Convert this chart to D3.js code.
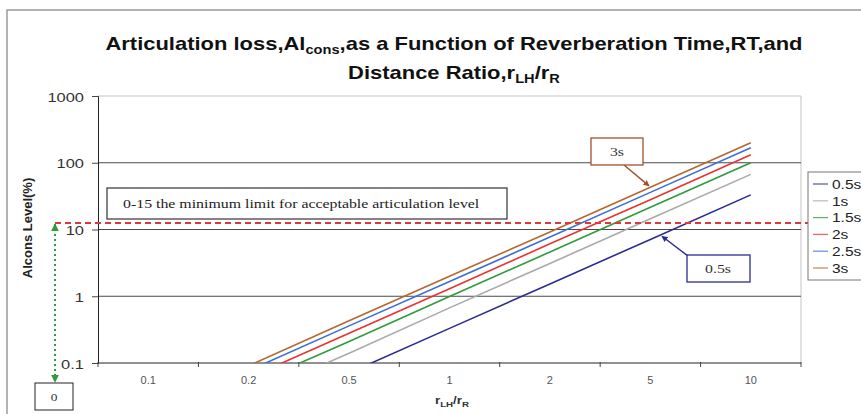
<!DOCTYPE html>
<html>
<head>
<meta charset="utf-8">
<script src="https://cdn.jsdelivr.net/npm/d3@7"></script>
<style>
  html, body { margin: 0; padding: 0; background: #fff; }
  svg { display: block; }
  text { font-family: "Liberation Sans", Arial, sans-serif; }
  .serif { font-family: "Liberation Serif", "Times New Roman", serif; }
</style>
</head>
<body>
<svg id="chart" width="861" height="414"></svg>
<script>
// Distance ratio categories (x axis)
const categories = ["0.1", "0.2", "0.5", "1", "2", "5", "10"];

// Alcons (%) for each reverberation time, one value per distance-ratio category
const seriesNames = ["0.5s", "1s", "1.5s", "2s", "2.5s", "3s"];
const alcons05 = [0.0033, 0.015, 0.071, 0.33, 1.53, 7.1, 33];
const alcons1  = [0.0066, 0.031, 0.14, 0.67, 3.1, 14.5, 67];
const alcons15 = [0.0098, 0.046, 0.21, 0.99, 4.6, 21.5, 100];
const alcons2  = [0.013, 0.060, 0.28, 1.3, 6.1, 28, 132];
const alcons25 = [0.016, 0.077, 0.36, 1.66, 7.7, 36, 168];
const alcons3  = [0.020, 0.091, 0.43, 2.0, 9.2, 43, 200];
const seriesValues = [alcons05, alcons1, alcons15, alcons2, alcons25, alcons3];
const seriesColors = ["#2b2d8e", "#a9a9a9", "#2e9b3c", "#e8342e", "#3c6fd6", "#b8662c"];

// Y axis ticks and the acceptable-articulation limit
const yTicks = [0.1, 1, 10, 100, 1000];
const yTickLabels = ["0.1", "1", "10", "100", "1000"];
const limitValue = 12.5;

// Text in this chart is set slightly wide
const WIDE = 1.22;

const svg = d3.select("#chart");

// Place a text element at (x, y) with horizontal widening
function wide(sel, x, y, sx) {
  return sel.attr("x", 0).attr("y", 0)
    .attr("transform", `translate(${x},${y}) scale(${sx || WIDE},1)`);
}

// Outer chart frame
svg.append("rect")
  .attr("x", 7).attr("y", 10).attr("width", 900).attr("height", 440)
  .attr("fill", "none").attr("stroke", "#9a9a9a").attr("stroke-width", 1.5);

const plot = { left: 98, right: 801, top: 96, bottom: 363 };

const x = d3.scaleBand().domain(categories).range([plot.left, plot.right]).padding(0);
const xc = c => x(c) + x.bandwidth() / 2;
const y = d3.scaleLog().domain([0.1, 1000]).range([plot.bottom, plot.top]);

// Plot area border (top/right) in light grey
svg.append("path")
  .attr("d", `M${plot.left},${plot.top}H${plot.right}V${plot.bottom}`)
  .attr("fill", "none").attr("stroke", "#c4c4c4").attr("stroke-width", 1);

// Horizontal gridlines at decades
svg.append("g").selectAll("line")
  .data(yTicks.filter(v => v > 0.1 && v < 1000))
  .join("line")
  .attr("x1", plot.left).attr("x2", plot.right)
  .attr("y1", d => y(d)).attr("y2", d => y(d))
  .attr("stroke", "#4a4a4a").attr("stroke-width", 1);

// Y axis
const yAxis = d3.axisLeft(y).tickValues(yTicks)
  .tickFormat((d, i) => yTickLabels[i]).tickSize(6).tickPadding(6);
const gy = svg.append("g").attr("transform", `translate(${plot.left},0)`).call(yAxis);
gy.select(".domain").attr("stroke", "#222");
gy.selectAll(".tick line").attr("stroke", "#444");
gy.selectAll(".tick text")
  .attr("font-size", 13.5).attr("fill", "#333")
  .attr("font-family", "'Liberation Sans', Arial, sans-serif")
  .attr("x", null).attr("dy", null)
  .attr("transform", `translate(-14,5) scale(${WIDE},1)`);

// X axis: category labels centred in bands, ticks on band boundaries
const gx = svg.append("g").attr("transform", `translate(0,${plot.bottom})`);
gx.append("line").attr("x1", plot.left).attr("x2", plot.right)
  .attr("stroke", "#222").attr("stroke-width", 1);
const boundaries = categories.map(c => x(c)).concat([plot.right]);
gx.selectAll("line.tk").data(boundaries).join("line").attr("class", "tk")
  .attr("x1", d => d).attr("x2", d => d).attr("y1", -1).attr("y2", 4)
  .attr("stroke", "#444");
gx.selectAll("text").data(categories).join("text")
  .attr("x", d => xc(d)).attr("y", 21)
  .attr("text-anchor", "middle").attr("font-size", 11).attr("fill", "#555")
  .text(d => d);

// Series lines, clipped to the plot area
svg.append("clipPath").attr("id", "plotClip").append("rect")
  .attr("x", plot.left).attr("y", plot.top)
  .attr("width", plot.right - plot.left).attr("height", plot.bottom - plot.top);

const line = d3.line().x((d, i) => xc(categories[i])).y(d => y(d));
svg.append("g").attr("clip-path", "url(#plotClip)")
  .selectAll("path")
  .data(seriesValues)
  .join("path")
  .attr("d", d => line(d))
  .attr("fill", "none")
  .attr("stroke", (d, i) => seriesColors[i])
  .attr("stroke-width", 1.6);

// Pixel y of a series polyline at a given pixel x
function lineYAt(vals, px) {
  const pts = vals.map((v, i) => [xc(categories[i]), y(v)]);
  for (let i = 0; i < pts.length - 1; i++) {
    if (px >= pts[i][0] && px <= pts[i + 1][0]) {
      const t = (px - pts[i][0]) / (pts[i + 1][0] - pts[i][0]);
      return pts[i][1] + t * (pts[i + 1][1] - pts[i][1]);
    }
  }
  return pts[pts.length - 1][1];
}

// Arrowhead markers
const defs = svg.append("defs");
function marker(id, color, orient) {
  defs.append("marker").attr("id", id)
    .attr("viewBox", "0 0 10 10").attr("refX", 9).attr("refY", 5)
    .attr("markerWidth", 4).attr("markerHeight", 4)
    .attr("markerUnits", "strokeWidth")
    .attr("orient", orient || "auto")
    .append("path").attr("d", "M0,0L10,5L0,10Z").attr("fill", color);
}
marker("arrBrown", "#a0522d");
marker("arrNavy", "#2b2d8e");
marker("arrGreenEnd", "#2e9b3c");
marker("arrGreenStart", "#2e9b3c", "auto-start-reverse");

// Acceptable-articulation limit (dashed red)
svg.append("line")
  .attr("x1", 55).attr("x2", 861)
  .attr("y1", y(limitValue)).attr("y2", y(limitValue))
  .attr("stroke", "#e0373a").attr("stroke-width", 2)
  .attr("stroke-dasharray", "6,4");

// Double-headed range arrow from the "0" box up to the limit
svg.append("line")
  .attr("x1", 55).attr("x2", 55)
  .attr("y1", y(limitValue) + 1).attr("y2", 382)
  .attr("stroke", "#2e9b3c").attr("stroke-width", 2)
  .attr("stroke-dasharray", "2,3")
  .attr("marker-start", "url(#arrGreenStart)")
  .attr("marker-end", "url(#arrGreenEnd)");

svg.append("rect").attr("x", 35).attr("y", 383).attr("width", 38).attr("height", 27)
  .attr("fill", "#fff").attr("stroke", "#222").attr("stroke-width", 1);
wide(svg.append("text").attr("class", "serif"), 54, 401)
  .attr("text-anchor", "middle").attr("font-size", 11).attr("fill", "#333").text("0");

// Limit note box
svg.append("rect").attr("x", 107).attr("y", 188).attr("width", 400).attr("height", 31)
  .attr("fill", "#fff").attr("stroke", "#333").attr("stroke-width", 1.2);
wide(svg.append("text").attr("class", "serif"), 123, 208)
  .attr("font-size", 13).attr("fill", "#222")
  .text("0-15 the minimum limit for acceptable articulation level");

// "3s" callout
const tip3x = 649;
svg.append("line")
  .attr("x1", 624).attr("y1", 165)
  .attr("x2", tip3x).attr("y2", lineYAt(alcons3, tip3x) - 2)
  .attr("stroke", "#a0522d").attr("stroke-width", 1.5)
  .attr("marker-end", "url(#arrBrown)");
svg.append("rect").attr("x", 591).attr("y", 138).attr("width", 52).attr("height", 27)
  .attr("fill", "#fff").attr("stroke", "#a0522d").attr("stroke-width", 1.3);
wide(svg.append("text").attr("class", "serif"), 617, 156)
  .attr("text-anchor", "middle").attr("font-size", 13).attr("fill", "#333").text("3s");

// "0.5s" callout
const tip05x = 662;
svg.append("line")
  .attr("x1", 688).attr("y1", 256)
  .attr("x2", tip05x).attr("y2", lineYAt(alcons05, tip05x) + 2)
  .attr("stroke", "#2b2d8e").attr("stroke-width", 1.5)
  .attr("marker-end", "url(#arrNavy)");
svg.append("rect").attr("x", 687).attr("y", 255).attr("width", 63).attr("height", 27)
  .attr("fill", "#fff").attr("stroke", "#2b2d8e").attr("stroke-width", 1.3);
wide(svg.append("text").attr("class", "serif"), 718, 273)
  .attr("text-anchor", "middle").attr("font-size", 13).attr("fill", "#333").text("0.5s");

// Legend
const legend = svg.append("g");
legend.append("rect").attr("x", 808).attr("y", 172).attr("width", 80).attr("height", 108)
  .attr("fill", "#fff").attr("stroke", "#777").attr("stroke-width", 1);
const legendRows = legend.selectAll("g.row").data(seriesNames).join("g").attr("class", "row")
  .attr("transform", (d, i) => `translate(0,${184 + i * 16.8})`);
legendRows.append("line").attr("x1", 813).attr("x2", 828)
  .attr("stroke", (d, i) => seriesColors[i]).attr("stroke-width", 1.3).attr("opacity", 0.75);
legendRows.append("text")
  .attr("transform", `translate(832,4.8) scale(1.15,1)`)
  .attr("font-size", 13.5).attr("fill", "#222").text(d => d);

// Title (two lines, with subscripts)
const title = wide(svg.append("text"), 454, 50)
  .attr("text-anchor", "middle")
  .attr("font-size", 18).attr("font-weight", "bold").attr("fill", "#111");
title.append("tspan").text("Articulation loss,Al");
title.append("tspan").attr("font-size", 12).attr("dy", 4).text("cons");
title.append("tspan").attr("dy", -4).text(",as a Function of Reverberation Time,RT,and");

const title2 = wide(svg.append("text"), 454, 79)
  .attr("text-anchor", "middle")
  .attr("font-size", 18).attr("font-weight", "bold").attr("fill", "#111");
title2.append("tspan").text("Distance Ratio,r");
title2.append("tspan").attr("font-size", 12).attr("dy", 4).text("LH");
title2.append("tspan").attr("dy", -4).text("/r");
title2.append("tspan").attr("font-size", 12).attr("dy", 4).text("R");

// Axis titles
const xTitle = wide(svg.append("text"), 452, 404).attr("text-anchor", "middle")
  .attr("font-size", 11).attr("font-weight", "bold").attr("fill", "#333");
xTitle.append("tspan").text("r");
xTitle.append("tspan").attr("font-size", 8).attr("dy", 3).text("LH");
xTitle.append("tspan").attr("dy", -3).text("/r");
xTitle.append("tspan").attr("font-size", 8).attr("dy", 3).text("R");

svg.append("text")
  .attr("transform", "translate(32,228) rotate(-90)")
  .attr("text-anchor", "middle").attr("font-size", 13).attr("font-weight", "bold")
  .attr("fill", "#222").text("Alcons Level(%)");
</script>
</body>
</html>
